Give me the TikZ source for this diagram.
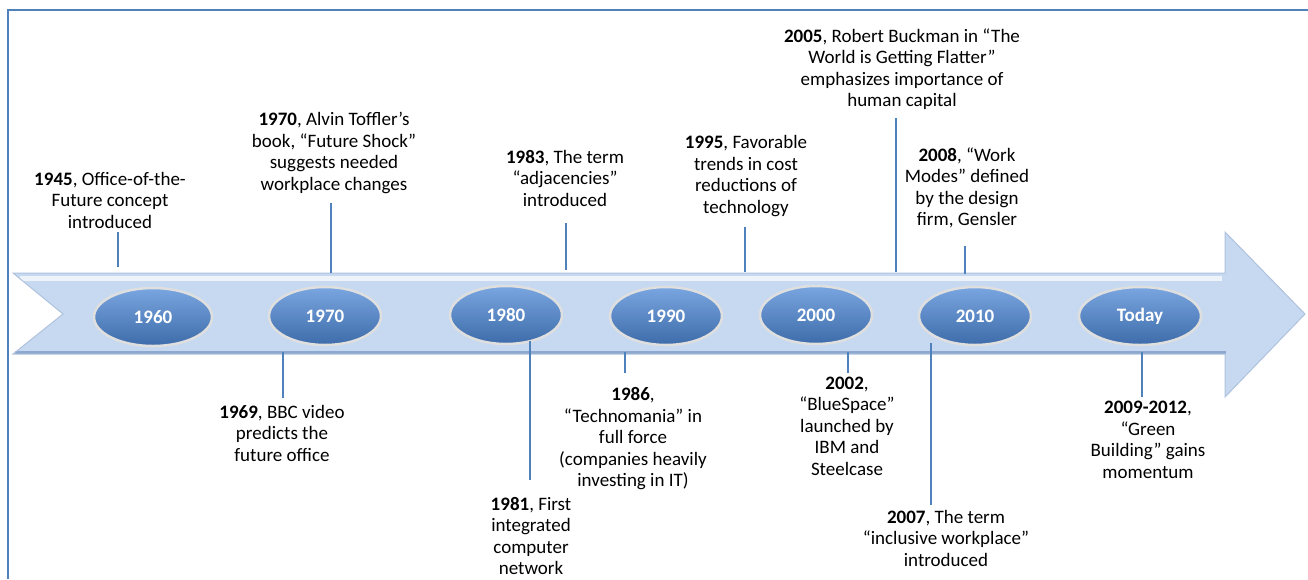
\documentclass[tikz,border=0pt]{standalone}
\usepackage{fontspec}
\setmainfont{Carlito}
\usetikzlibrary{shapes.geometric}
\definecolor{lineblue}{HTML}{4F81BD}
\definecolor{shaftblue}{HTML}{C6D9F1}
\definecolor{shaftdark}{HTML}{8DA8CF}
\definecolor{balltop}{HTML}{79A6E0}
\definecolor{ballbottom}{HTML}{3E6CAA}
\tikzset{
    line/.style={
        lineblue,
        line width=2.2pt
    },
    year/.style={
        ellipse,
        minimum width=112pt,
        minimum height=58pt,
        draw=gray!25,
        line width=2.5pt,
        top color=balltop,
        bottom color=ballbottom,
        text=white,
        font=\fontsize{19}{22}\selectfont\bfseries
    },
    event/.style={
        align=center,
        inner sep=0pt,
        font=\fontsize{19}{21.5}\selectfont
    }
}

\begin{document}
\begin{tikzpicture}[x=1pt, y=-1pt]
    \useasboundingbox (0, 0) rectangle (1308, 579);
    % Frame:
    \draw [line, line width=2pt] (8, 579) -- (8, 10) -- (1308, 10);
    % Arrow:
    \fill [shaftblue] (13, 273) -- (1225, 273) -- (1225, 232) -- (1305, 314)
        -- (1225, 397) -- (1225, 354) -- (13, 354) -- (63, 314) -- cycle;
    \draw [white, opacity=0.7, line width=5pt] (20, 278) -- (1222, 278);
    \draw [shaftdark, line width=3pt] (15, 352) -- (1226, 352);
    \draw [shaftdark!70, line width=1pt] (13, 273) -- (1225, 273) -- (1225, 232) -- (1305, 314)
        -- (1225, 397) -- (1225, 354) -- (13, 354) -- (63, 314) -- cycle;
    % Years:
    \node [year, minimum width=118pt] (y1960) at (153, 317) {1960};
    \node [year] (y1970) at (325, 316) {1970};
    \node [year] (y1980) at (506, 315) {1980};
    \node [year] (y1990) at (666, 316) {1990};
    \node [year] (y2000) at (816, 315) {2000};
    \node [year] (y2010) at (975, 316) {2010};
    \node [year, minimum width=122pt] (yToday) at (1140, 316) {Today};
    % Events above the arrow:
    \node [event] (e1945) at (110, 200) {\textbf{1945}, Office-of-the-\\Future concept\\introduced};
    \node [event] (e1970) at (334, 153) {\textbf{1970}, Alvin Toffler’s\\book, “Future Shock”\\suggests needed\\workplace changes};
    \node [event] (e1983) at (565, 178) {\textbf{1983}, The term\\“adjacencies”\\introduced};
    \node [event] (e1995) at (746, 176) {\textbf{1995}, Favorable\\trends in cost\\reductions of\\technology};
    \node [event] (e2005) at (902, 69) {\textbf{2005}, Robert Buckman in “The\\World is Getting Flatter”\\emphasizes importance of\\human capital};
    \node [event] (e2008) at (967, 188) {\textbf{2008}, “Work\\Modes” defined\\by the design\\firm, Gensler};
    % Events below the arrow:
    \node [event] (e1969) at (282, 433) {\textbf{1969}, BBC video\\predicts the\\future office};
    \node [event] (e1981) at (531, 536) {\textbf{1981}, First\\integrated\\computer\\network};
    \node [event] (e1986) at (633, 439) {\textbf{1986},\\“Technomania” in\\full force\\(companies heavily\\investing in IT)};
    \node [event] (e2002) at (847, 426) {\textbf{2002},\\“BlueSpace”\\launched by\\IBM and\\Steelcase};
    \node [event] (e2007) at (946, 538) {\textbf{2007}, The term\\“inclusive workplace”\\introduced};
    \node [event] (e2009) at (1148, 440) {\textbf{2009-2012},\\“Green\\Building” gains\\momentum};
    % Connectors:
    \coordinate (p1945) at (118, 267);
    \coordinate (p1970) at (331, 273);
    \coordinate (p1983) at (566, 270);
    \coordinate (p1995) at (745, 272);
    \coordinate (p2005) at (896, 272);
    \coordinate (p2008) at (965, 274);
    \coordinate (p1969) at (283, 352);
    \coordinate (p1981) at (530, 341);
    \coordinate (p1986) at (625, 352);
    \coordinate (p2002) at (848, 352);
    \coordinate (p2007) at (931, 343);
    \coordinate (p2009) at (1142, 352);
    \draw [line] (p1945) -- (p1945 |- 0, 232);
    \draw [line] (p1970) -- (p1970 |- 0, 203);
    \draw [line] (p1983) -- (p1983 |- 0, 223);
    \draw [line] (p1995) -- (p1995 |- 0, 227);
    \draw [line] (p2005) -- (p2005 |- 0, 118);
    \draw [line] (p2008) -- (p2008 |- 0, 246);
    \draw [line] (p1969) -- (p1969 |- 0, 398);
    \draw [line] (p1981) -- (p1981 |- 0, 480);
    \draw [line] (p1986) -- (p1986 |- 0, 373);
    \draw [line] (p2002) -- (p2002 |- 0, 373);
    \draw [line] (p2007) -- (p2007 |- 0, 505);
    \draw [line] (p2009) -- (p2009 |- 0, 397);
\end{tikzpicture}
\end{document}
